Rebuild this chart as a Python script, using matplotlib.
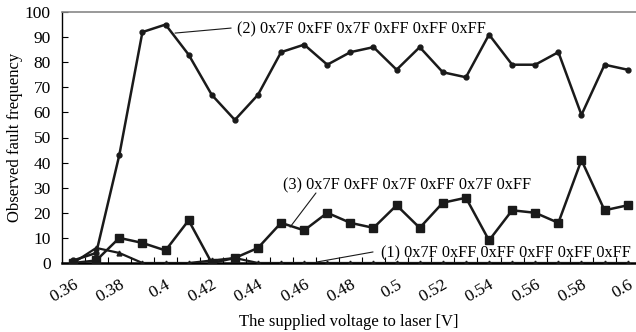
import matplotlib
matplotlib.use("Agg")
import matplotlib.pyplot as plt
import numpy as np

voltage = [0.36, 0.37, 0.38, 0.39, 0.40, 0.41, 0.42, 0.43, 0.44, 0.45, 0.46, 0.47, 0.48,
           0.49, 0.50, 0.51, 0.52, 0.53, 0.54, 0.55, 0.56, 0.57, 0.58, 0.59, 0.60]
series1 = [0, 6, 4, 0, 0, 0, 1, 2, 0, 0, 0, 0, 0, 0, 0, 0, 0, 0, 0, 0, 0, 0, 0, 0, 0]
series2 = [1, 4, 43, 92, 95, 83, 67, 57, 67, 84, 87, 79, 84, 86, 77, 86, 76, 74, 91, 79, 79, 84, 59, 79, 77]
series3 = [0, 1, 10, 8, 5, 17, 0, 2, 6, 16, 13, 20, 16, 14, 23, 14, 24, 26, 9, 21, 20, 16, 41, 21, 23]
xtick_labels = ["0.36", "0.38", "0.4", "0.42", "0.44", "0.46", "0.48", "0.5", "0.52", "0.54", "0.56", "0.58", "0.6"]
label1 = "(1) 0x7F 0xFF 0xFF 0xFF 0xFF 0xFF"
label2 = "(2) 0x7F 0xFF 0x7F 0xFF 0xFF 0xFF"
label3 = "(3) 0x7F 0xFF 0x7F 0xFF 0x7F 0xFF"

plt.rcParams['font.family'] = ['Liberation Serif', 'DejaVu Serif']

fig = plt.figure(figsize=(6.36, 3.32), dpi=100)
ax = fig.add_axes([62/636, 1-263/332, 1-62/636, (263-12)/332])

lc = '#1a1a1a'
ax.plot(voltage, series1, color=lc, lw=1.6, marker='^', ms=3.5, zorder=3)
ax.plot(voltage, series3, color=lc, lw=1.8, marker='s', ms=5.5, zorder=4)
ax.plot(voltage, series2, color=lc, lw=1.8, marker='o', ms=3.5, zorder=5)

ax.set_xlim(0.3552, 0.6036)
ax.set_ylim(0, 100)

tick_pos = [float(t) for t in xtick_labels]
ax.set_xticks(tick_pos)
ax.set_xticklabels(xtick_labels, rotation=30, ha='right', va='top', rotation_mode='anchor')
ax.tick_params(axis='x', which='major', length=0, pad=10, labelsize=12.5)
minor = [v + 0.005 for v in voltage[:-1]]
ax.set_xticks(minor, minor=True)
ax.tick_params(axis='x', which='minor', direction='in', length=4, width=0.8)

ax.set_yticks(np.arange(0, 101, 10))
ax.tick_params(axis='y', direction='in', length=4, width=0.8, labelsize=12.5, pad=8)

ax.spines['right'].set_visible(False)
ax.spines['top'].set_color('#888888')
ax.spines['top'].set_linewidth(1.2)
ax.spines['left'].set_linewidth(1.0)
ax.spines['bottom'].set_linewidth(1.8)

ax.set_xlabel("The supplied voltage to laser [V]", fontsize=12, labelpad=6)
ax.set_ylabel("Observed fault frequency", fontsize=12)
ax.yaxis.set_label_coords(-0.068, 0.5)

def leader(x0, y0, x1, y1):
    ax.annotate('', xy=(x1, y1), xytext=(x0, y0),
                arrowprops=dict(arrowstyle='-', color=lc, lw=0.8, shrinkA=0, shrinkB=0))

fs = 11.7
ax.text(0.4309, 93.2, label2, fontsize=fs, va='center', ha='left')
leader(0.4284, 93.6, 0.4041, 91.6)
ax.text(0.4508, 31, label3, fontsize=fs, va='center', ha='left')
leader(0.4651, 27.9, 0.4539, 14.3)
ax.text(0.4932, 3.8, label1, fontsize=fs, va='center', ha='left')
leader(0.4898, 4.4, 0.4655, 0.4)

fig.savefig("out.png", dpi=100)
